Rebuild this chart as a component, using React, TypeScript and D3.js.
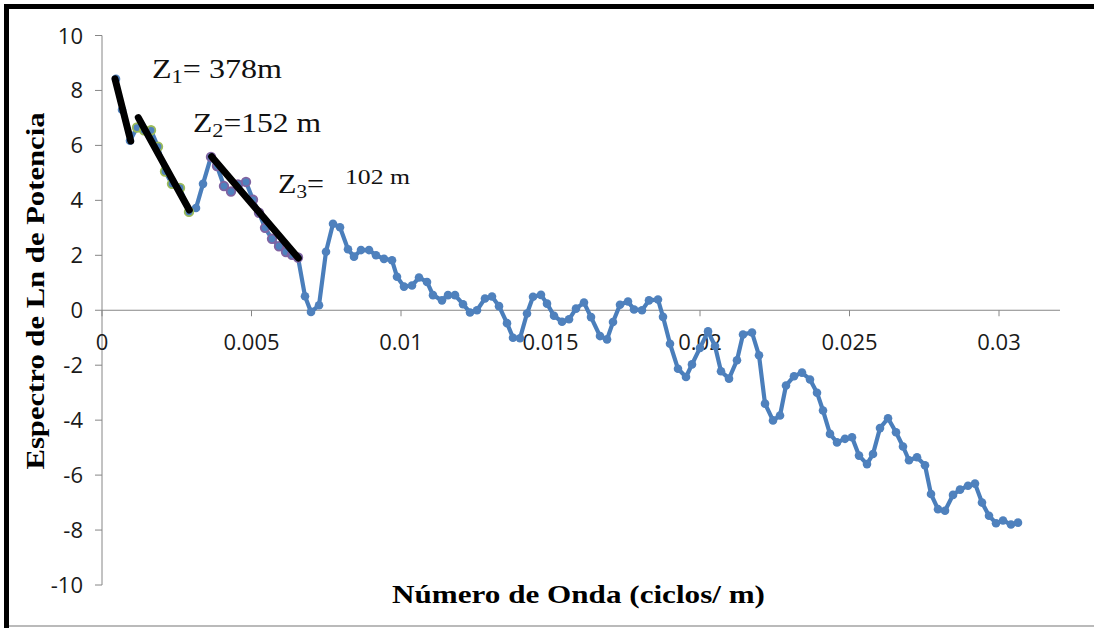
import React from "react";
import * as d3 from "d3";

// Wavenumber (cycles/m) and Ln power spectrum values
const waveNumber = [
  0.000468, 0.000669, 0.000936, 0.001171, 0.001405, 0.001639, 0.001873, 0.002107, 0.002341, 0.002609,
  0.00291, 0.003144, 0.003378, 0.003645, 0.003846, 0.00408, 0.004314, 0.004548, 0.004816, 0.00505,
  0.005251, 0.005452, 0.005686, 0.00592, 0.006154, 0.006355, 0.006555, 0.006789, 0.00699, 0.007258,
  0.007492, 0.007726, 0.00796, 0.008227, 0.008428, 0.008662, 0.00893, 0.009164, 0.009431, 0.009699,
  0.009866, 0.0101, 0.010368, 0.010602, 0.01087, 0.01107, 0.011371, 0.011572, 0.011806, 0.012074,
  0.012308, 0.012542, 0.012809, 0.013043, 0.013278, 0.013545, 0.013746, 0.01398, 0.014214, 0.014415,
  0.014682, 0.014883, 0.015117, 0.015385, 0.015619, 0.015853, 0.01612, 0.016355, 0.016656, 0.01689,
  0.01709, 0.017324, 0.017592, 0.017793, 0.01806, 0.018294, 0.018595, 0.018763, 0.018997, 0.019264,
  0.019532, 0.019732, 0.02, 0.020268, 0.020502, 0.020702, 0.02097, 0.021237, 0.021438, 0.021739,
  0.021973, 0.022174, 0.022441, 0.022676, 0.022876, 0.023144, 0.023411, 0.023679, 0.023913, 0.024114,
  0.024348, 0.024582, 0.024849, 0.025084, 0.025318, 0.025585, 0.025786, 0.02602, 0.026288, 0.026555,
  0.026789, 0.02699, 0.027258, 0.027525, 0.027726, 0.02796, 0.028194, 0.028462, 0.028696, 0.028963,
  0.029197, 0.029431, 0.029666, 0.0299, 0.030134, 0.030401, 0.030635,
];
const lnPower = [
  8.42, 7.3, 6.17, 6.65, 6.55, 6.55, 5.95, 5.05, 4.6, 4.45,
  3.58, 3.72, 4.6, 5.58, 5.25, 4.52, 4.32, 4.58, 4.67, 4.02,
  3.55, 3.0, 2.6, 2.33, 2.12, 2.02, 1.92, 0.51, -0.06, 0.18,
  2.13, 3.15, 3.02, 2.22, 1.95, 2.19, 2.19, 2.0, 1.87, 1.82,
  1.22, 0.86, 0.9, 1.19, 1.03, 0.55, 0.36, 0.55, 0.55, 0.22,
  -0.08, 0.0, 0.43, 0.5, 0.15, -0.47, -1.0, -1.02, -0.12, 0.49,
  0.56, 0.24, -0.2, -0.42, -0.33, 0.06, 0.28, -0.25, -0.94, -1.06,
  -0.43, 0.2, 0.32, 0.03, 0.0, 0.36, 0.39, -0.24, -1.22, -2.13,
  -2.43, -1.97, -1.37, -0.77, -1.3, -2.22, -2.49, -1.82, -0.88, -0.81,
  -1.64, -3.4, -4.01, -3.83, -2.74, -2.4, -2.27, -2.52, -3.0, -3.65,
  -4.5, -4.81, -4.68, -4.62, -5.29, -5.6, -5.23, -4.29, -3.93, -4.44,
  -4.96, -5.46, -5.35, -5.64, -6.69, -7.24, -7.3, -6.72, -6.53, -6.39,
  -6.31, -7.0, -7.48, -7.75, -7.65, -7.8, -7.73,
];

// index ranges of the highlighted fit segments
const greenRange = [3, 10];
const purpleRange = [13, 26];

// straight-line fits (start/end)
const fitX = [
  [0.000435, 0.00096],
  [0.001214, 0.00292],
  [0.003669, 0.006565],
];
const fitY = [
  [8.42, 6.16],
  [7.01, 3.65],
  [5.59, 1.9],
];

const xTicks = [0, 0.005, 0.01, 0.015, 0.02, 0.025, 0.03];
const xTickLabels = ["0", "0.005", "0.01", "0.015", "0.02", "0.025", "0.03"];
const yTicks = [10, 8, 6, 4, 2, 0, -2, -4, -6, -8, -10];

const W = 1094;
const H = 628;

export default function App() {
  const x = d3.scaleLinear().domain([0, 0.03204]).range([102, 1060]);
  const y = d3.scaleLinear().domain([-10, 10]).range([585, 35.5]);
  const pts = waveNumber.map((w, i) => [w, lnPower[i]] as [number, number]);
  const line = d3
    .line<[number, number]>()
    .x((d) => x(d[0]))
    .y((d) => y(d[1]));

  const blue = "#4A7EBB";
  const axisCol = "#868686";
  const tickFont = "'Open Sans', 'Liberation Sans', sans-serif";
  const serif = "'Liberation Serif', 'Times New Roman', serif";

  return (
    <svg
      width={W}
      height={H}
      style={{ position: "absolute", left: 0, top: 0, background: "#fff" }}
    >
      <rect x={0} y={0} width={W} height={H} fill="#fff" />
      {/* frame */}
      <rect x={4} y={4} width={W - 4} height={5} fill="#000" />
      <rect x={4} y={4} width={5} height={H - 4} fill="#000" />
      <line x1={9} x2={W} y1={626} y2={626} stroke="#777" strokeWidth={1.2} />

      {/* axes */}
      <line x1={x(0)} x2={x(0)} y1={y(10)} y2={y(-10)} stroke={axisCol} strokeWidth={1} />
      {yTicks.map((t) => (
        <g key={"yt" + t}>
          <line x1={x(0) - 7} x2={x(0)} y1={y(t)} y2={y(t)} stroke={axisCol} strokeWidth={1} />
          <text
            x={83}
            y={y(t) + 8}
            textAnchor="end"
            fontFamily={tickFont}
            fontSize={22}
            fill="#1a1a1a"
          >
            {String(t)}
          </text>
        </g>
      ))}
      <line x1={x(0)} x2={1060} y1={y(0)} y2={y(0)} stroke={axisCol} strokeWidth={1} />
      {xTicks.map((t, i) => (
        <g key={"xt" + i}>
          <line x1={x(t)} x2={x(t)} y1={y(0)} y2={y(0) + 6} stroke={axisCol} strokeWidth={1} />
          <text
            x={x(t)}
            y={350}
            textAnchor="middle"
            fontFamily={tickFont}
            fontSize={22}
            fill="#1a1a1a"
          >
            {xTickLabels[i]}
          </text>
        </g>
      ))}

      {/* data series */}
      <path
        d={line(pts) || ""}
        fill="none"
        stroke={blue}
        strokeWidth={4.2}
        strokeLinejoin="round"
      />
      {pts.map((p, i) => (
        <circle key={"p" + i} cx={x(p[0])} cy={y(p[1])} r={4.3} fill="#4F81BD" />
      ))}
      {pts.map((p, i) =>
        i >= greenRange[0] && i <= greenRange[1] ? (
          <circle
            key={"g" + i}
            cx={x(p[0])}
            cy={y(p[1])}
            r={4.3}
            fill="none"
            stroke="#9BBB59"
            strokeWidth={1.8}
          />
        ) : null
      )}
      {pts.map((p, i) =>
        i >= purpleRange[0] && i <= purpleRange[1] ? (
          <circle
            key={"v" + i}
            cx={x(p[0])}
            cy={y(p[1])}
            r={4.3}
            fill="none"
            stroke="#8064A2"
            strokeWidth={1.8}
          />
        ) : null
      )}

      {/* fit lines */}
      {fitX.map((fx, k) => (
        <line
          key={"f" + k}
          x1={x(fx[0])}
          y1={y(fitY[k][0])}
          x2={x(fx[1])}
          y2={y(fitY[k][1])}
          stroke="#000"
          strokeWidth={7}
          strokeLinecap="round"
        />
      ))}

      {/* annotations */}
      <text x={152} y={78} fontFamily={serif} fontSize={27} fill="#111" textLength={130} lengthAdjust="spacingAndGlyphs">
        Z<tspan fontSize={19} dy={5}>1</tspan><tspan dy={-5}>= 378m</tspan>
      </text>
      <text x={193} y={132} fontFamily={serif} fontSize={27} fill="#111" textLength={128} lengthAdjust="spacingAndGlyphs">
        Z<tspan fontSize={19} dy={5}>2</tspan><tspan dy={-5}>=152 m</tspan>
      </text>
      <text x={278} y={193} fontFamily={serif} fontSize={27} fill="#111" textLength={46} lengthAdjust="spacingAndGlyphs">
        Z<tspan fontSize={19} dy={5}>3</tspan><tspan dy={-5}>=</tspan>
      </text>
      <text x={345} y={184} fontFamily={serif} fontSize={21} fill="#111" textLength={65} lengthAdjust="spacingAndGlyphs">
        102 m
      </text>

      {/* axis titles */}
      <text
        x={392}
        y={603}
        fontFamily={serif}
        fontWeight="bold"
        fontSize={26}
        fill="#000"
        textLength={373}
        lengthAdjust="spacingAndGlyphs"
      >
        Número de Onda (ciclos/ m)
      </text>
      <text
        transform="translate(44,291) rotate(-90)"
        textAnchor="middle"
        fontFamily={serif}
        fontWeight="bold"
        fontSize={26}
        fill="#000"
        textLength={357}
        lengthAdjust="spacingAndGlyphs"
      >
        Espectro de Ln de Potencia
      </text>
    </svg>
  );
}
